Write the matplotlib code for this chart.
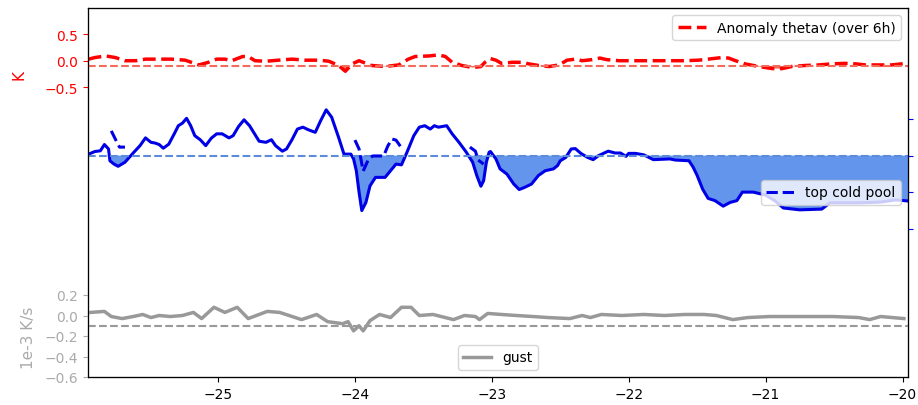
import numpy as np
import matplotlib
matplotlib.use("Agg")
import matplotlib.pyplot as plt

# ---- data ----
red_x = [-25.945, -25.90, -25.82, -25.75, -25.68, -25.60, -25.53, -25.43, -25.34, -25.24,
         -25.14, -25.07, -25.01, -24.95, -24.90, -24.82, -24.78, -24.73, -24.65, -24.56,
         -24.46, -24.36, -24.26, -24.19, -24.12, -24.07, -24.02, -23.97, -23.92, -23.88,
         -23.78, -23.68, -23.61, -23.56, -23.46, -23.39, -23.34, -23.29, -23.22, -23.14,
         -23.08, -23.05, -23.01, -22.97, -22.93, -22.85, -22.78, -22.73, -22.66, -22.58,
         -22.51, -22.45, -22.39, -22.34, -22.27, -22.21, -22.16, -22.07, -21.95, -21.83,
         -21.71, -21.59, -21.49, -21.42, -21.32, -21.27, -21.22, -21.15, -21.05, -20.95,
         -20.88, -20.81, -20.71, -20.61, -20.52, -20.42, -20.34, -20.27, -20.17, -20.08,
         -19.97]
red_y = [0.03, 0.06, 0.09, 0.06, 0.0, 0.0, 0.03, 0.03, 0.03, 0.01,
         -0.08, -0.03, 0.03, 0.03, 0.0, 0.08, 0.08, 0.0, -0.01, 0.01,
         0.03, 0.01, 0.01, -0.01, -0.09, -0.2, -0.06, 0.0, -0.05, -0.09,
         -0.11, -0.08, 0.03, 0.08, 0.09, 0.11, 0.08, -0.03, -0.09, -0.13,
         -0.11, -0.03, 0.04, 0.01, -0.05, -0.03, -0.03, -0.06, -0.09, -0.11,
         -0.08, 0.01, 0.03, 0.0, 0.02, 0.05, 0.02, 0.0, 0.0, 0.0,
         0.0, 0.0, 0.01, 0.03, 0.06, 0.05, 0.0, -0.06, -0.11, -0.15,
         -0.15, -0.11, -0.09, -0.08, -0.06, -0.05, -0.06, -0.08, -0.08, -0.08,
         -0.05]
red_thr = -0.1

blue_x = [-25.945, -25.90, -25.86, -25.83, -25.80, -25.79, -25.76, -25.73, -25.68, -25.62,
          -25.57, -25.53, -25.49, -25.46, -25.43, -25.40, -25.36, -25.32, -25.29, -25.26,
          -25.23, -25.20, -25.17, -25.13, -25.09, -25.05, -25.01, -24.97, -24.92, -24.89,
          -24.85, -24.81, -24.77, -24.74, -24.70, -24.65, -24.61, -24.58, -24.53, -24.50,
          -24.46, -24.42, -24.38, -24.34, -24.29, -24.25, -24.21, -24.17, -24.12, -24.08,
          -24.03, -24.01, -23.99, -23.97, -23.95, -23.92, -23.89, -23.85, -23.78, -23.74,
          -23.70, -23.66, -23.62, -23.57, -23.53, -23.49, -23.45, -23.42, -23.39, -23.33,
          -23.29, -23.24, -23.19, -23.14, -23.11, -23.08, -23.06, -23.04, -23.02, -23.01,
          -22.97, -22.94, -22.89, -22.84, -22.80, -22.76, -22.71, -22.66, -22.61, -22.55,
          -22.52, -22.50, -22.46, -22.42, -22.39, -22.35, -22.30, -22.26, -22.22, -22.15,
          -22.10, -22.06, -22.02, -22.00, -21.95, -21.89, -21.82, -21.70, -21.66, -21.56,
          -21.53, -21.50, -21.46, -21.42, -21.37, -21.31, -21.26, -21.21, -21.17, -21.09,
          -21.00, -20.93, -20.87, -20.75, -20.59, -20.53, -20.31, -20.16, -20.05, -19.96]
blue_y = [0.04, 0.11, 0.13, 0.30, 0.18, -0.14, -0.23, -0.29, -0.18, 0.07,
          0.27, 0.48, 0.36, 0.34, 0.30, 0.20, 0.31, 0.59, 0.81, 0.88,
          1.01, 0.81, 0.54, 0.43, 0.27, 0.47, 0.59, 0.59, 0.48, 0.54,
          0.79, 0.97, 0.81, 0.63, 0.39, 0.36, 0.43, 0.27, 0.12, 0.18,
          0.43, 0.72, 0.77, 0.70, 0.63, 0.95, 1.24, 1.04, 0.50, 0.04,
          0.04, -0.09, -0.41, -0.99, -1.49, -1.27, -0.82, -0.59, -0.59, -0.41,
          -0.23, -0.25, 0.09, 0.54, 0.77, 0.81, 0.72, 0.81, 0.77, 0.81,
          0.59, 0.36, 0.11, -0.18, -0.54, -0.83, -0.68, -0.18, 0.09, 0.11,
          -0.09, -0.36, -0.50, -0.77, -0.92, -0.86, -0.77, -0.54, -0.41, -0.36,
          -0.27, -0.14, -0.05, 0.18, 0.19, 0.06, -0.05, -0.11, 0.0, 0.12,
          0.07, 0.07, -0.02, 0.06, 0.06, 0.02, -0.11, -0.09, -0.12, -0.14,
          -0.31, -0.54, -0.91, -1.16, -1.22, -1.37, -1.27, -1.22, -0.99, -0.99,
          -1.07, -1.23, -1.42, -1.47, -1.45, -1.28, -1.28, -1.26, -1.20, -1.23]

cold_x = [-25.78, -25.74, -25.72, -25.68, np.nan,
          -24.00, -23.97, -23.94, -23.90, -23.87, -23.79, -23.76, -23.73, -23.70, -23.66, np.nan,
          -23.16, -23.12, -23.10, -23.06]
cold_y = [0.67, 0.37, 0.23, 0.23, np.nan,
          0.42, 0.18, -0.42, -0.09, -0.01, -0.01, 0.26, 0.45, 0.42, 0.21, np.nan,
          0.23, 0.12, -0.12, -0.23]

gust_x = [-25.93, -25.83, -25.78, -25.70, -25.62, -25.55, -25.49, -25.43, -25.35, -25.26,
          -25.18, -25.12, -25.03, -24.95, -24.86, -24.78, -24.64, -24.55, -24.39, -24.28,
          -24.20, -24.09, -24.05, -24.01, -23.97, -23.94, -23.89, -23.82, -23.74, -23.66,
          -23.59, -23.53, -23.43, -23.28, -23.20, -23.12, -23.09, -23.03, -22.93, -22.82,
          -22.70, -22.59, -22.43, -22.34, -22.28, -22.20, -22.05, -21.89, -21.74, -21.59,
          -21.45, -21.36, -21.24, -21.13, -20.97, -20.82, -20.66, -20.51, -20.32, -20.24,
          -20.16, -19.99]
gust_y = [0.03, 0.04, -0.01, -0.03, -0.01, 0.01, -0.02, 0.0, -0.01, 0.0,
          0.03, -0.03, 0.08, 0.03, 0.08, -0.03, 0.04, 0.03, -0.04, 0.01,
          -0.06, -0.08, -0.06, -0.15, -0.10, -0.15, -0.05, 0.01, -0.02, 0.08,
          0.08, 0.0, 0.01, -0.04, 0.0, -0.01, -0.04, 0.02, 0.01, 0.0,
          -0.01, -0.02, -0.03, 0.0, -0.02, 0.01, 0.0, 0.01, 0.0, 0.01,
          0.01, 0.0, -0.04, -0.02, -0.01, -0.01, -0.01, -0.01, -0.02, -0.04,
          -0.01, -0.03]
gust_thr = -0.1

xticks = [-25, -24, -23, -22, -21, -20]

# ---- plot ----
fig = plt.figure(figsize=(9.18, 4.06), dpi=100)
ax = fig.add_axes([88/918, 28/406, 820/918, 369/406])
ax.set_xlim(-25.95, -19.96)

red = np.array(red_y)
ax.plot(red_x, red, color='red', ls='--', lw=2.5, label='Anomaly thetav (over 6h)')
ax.axhline(red_thr, color='#f26b5b', ls='--', lw=1.5)
ax.fill_between(red_x, red, red_thr, where=red < red_thr, interpolate=True,
                color='#f26b5b', lw=0)
ax.set_ylim(-6, 1)
ax.set_yticks([-0.5, 0.0, 0.5])
ax.tick_params(axis='y', colors='red', labelcolor='red', labelsize=10)
ax.set_ylabel('K', color='red', fontsize=11)
ax.yaxis.set_label_coords(-0.075, 0.82)
ax.set_xticks(xticks)
ax.tick_params(axis='x', labelsize=10)
ax.legend(loc='upper right', fontsize=10)

ax2 = ax.twinx()
bl = np.array(blue_y)
ax2.plot(blue_x, bl, color='#0000e6', lw=2.2)
ax2.axhline(0, color='#5b8bd9', ls='--', lw=1.5)
ax2.fill_between(blue_x, bl, 0, where=bl < 0, interpolate=True, color='cornflowerblue', lw=0)
ax2.plot(cold_x, cold_y, color='#0000e6', ls='--', lw=2.2, label='top cold pool')
ax2.set_ylim(-6, 4)
ax2.set_yticks([-2, -1, 0, 1])
ax2.tick_params(axis='y', colors='blue', labelright=False)
ax2.legend(loc='center right', fontsize=10)

ax3 = ax.twinx()
ax3.yaxis.tick_left()
ax3.yaxis.set_label_position('left')
ax3.plot(gust_x, gust_y, color='#999999', lw=2.5, label='gust')
ax3.axhline(gust_thr, color='#999999', ls='--', lw=1.5)
ax3.set_ylim(-0.6, 3.0)
ax3.set_yticks([-0.6, -0.4, -0.2, 0.0, 0.2])
ax3.tick_params(axis='y', colors='#aaaaaa', labelcolor='#aaaaaa', labelsize=10)
ax3.set_ylabel('1e-3 K/s', color='#aaaaaa', fontsize=11)
ax3.yaxis.set_label_coords(-0.064, 0.11)
ax3.legend(loc='lower center', fontsize=10)

fig.savefig('out.png', dpi=100)
